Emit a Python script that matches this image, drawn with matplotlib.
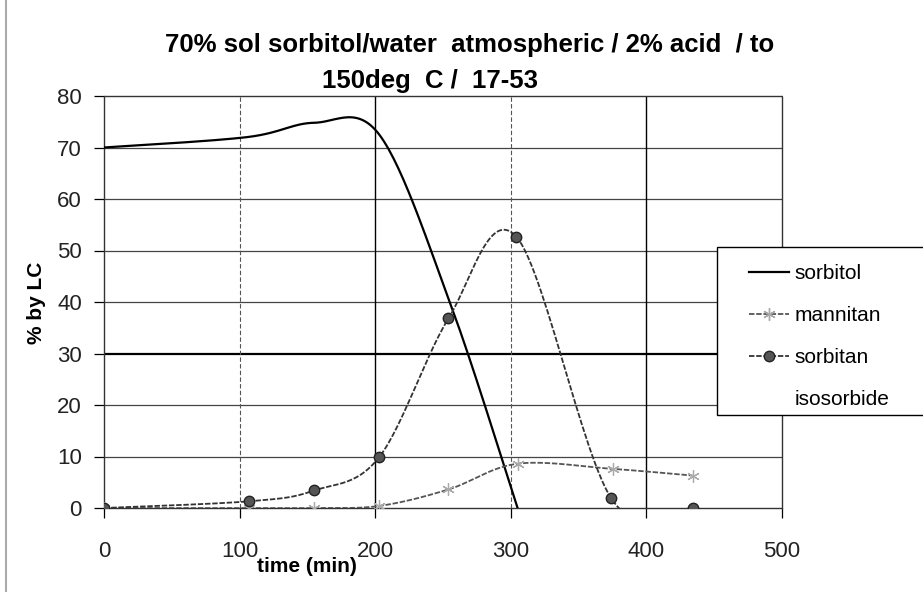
import numpy as np
import matplotlib
matplotlib.use('Agg')
import matplotlib.pyplot as plt
from matplotlib.patches import Rectangle
from matplotlib.lines import Line2D

plt.rcParams['font.family'] = ['Liberation Sans', 'DejaVu Sans']

# data
sorbitol_t = [0, 105, 155, 203, 255, 305]
sorbitol = [70, 72, 74.8, 72.5, 40, 0]

mannitan_t = [0, 107, 155, 203, 254, 305, 375, 434]
mannitan = [0, 0, 0, 0.4, 3.6, 8.6, 7.6, 6.3]

sorbitan_t = [0, 107, 155, 203, 254, 304, 374, 434]
sorbitan = [0, 1.3, 3.4, 9.9, 36.8, 52.7, 1.9, 0]

isosorbide_t = []
isosorbide = []

title1 = '70% sol sorbitol/water  atmospheric / 2% acid  / to'
title2 = '150deg  C /  17-53'


def smooth(x, y, n=30):
    # catmull-rom style smoothing like the spreadsheet "smoothed line"
    x = np.asarray(x, float)
    y = np.asarray(y, float)
    if len(x) < 2:
        return x, y
    px = np.concatenate([[x[0]], x, [x[-1]]])
    py = np.concatenate([[y[0]], y, [y[-1]]])
    xs, ys = [], []
    t = np.linspace(0, 1, n)
    for i in range(1, len(px) - 2):
        p0 = np.array([px[i], py[i]])
        p3 = np.array([px[i + 1], py[i + 1]])
        b1 = p0 + (np.array([px[i + 1], py[i + 1]]) - np.array([px[i - 1], py[i - 1]])) / 6.0
        b2 = p3 - (np.array([px[i + 2], py[i + 2]]) - np.array([px[i], py[i]])) / 6.0
        pts = ((1 - t)[:, None] ** 3 * p0 + 3 * ((1 - t) ** 2 * t)[:, None] * b1
               + 3 * ((1 - t) * t ** 2)[:, None] * b2 + (t ** 3)[:, None] * p3)
        xs.extend(pts[:, 0])
        ys.extend(pts[:, 1])
    return np.array(xs), np.array(ys)


fig = plt.figure(figsize=(9.23, 5.92), dpi=100)
ax = fig.add_axes([104 / 923., 1 - 508 / 592., (782 - 104) / 923., (508 - 96) / 592.])

# grid
for yv in range(10, 80, 10):
    if yv == 30:
        ax.axhline(yv, color='black', lw=1.6, zorder=1)
    else:
        ax.axhline(yv, color='#444444', lw=0.9, zorder=1)
for xv in [100, 300]:
    ax.axvline(xv, color='#555555', lw=0.8, ls=(0, (4, 2)), zorder=1)
for xv in [200, 400]:
    ax.axvline(xv, color='black', lw=1.0, zorder=1)

sx, sy = smooth(sorbitol_t, sorbitol)
ax.plot(sx, sy, color='black', lw=1.6, zorder=3)

mx, my = smooth(mannitan_t, mannitan)
ax.plot(mx, my, color='#555555', lw=1.3, ls=(0, (3, 1)), zorder=3)
ax.plot(mannitan_t, mannitan, ls='none', marker=(6, 2, 0), ms=9, mec='#aaaaaa', mew=0.9, zorder=4)

bx, by = smooth(sorbitan_t, sorbitan)
ax.plot(bx, by, color='#333333', lw=1.3, ls=(0, (3, 1)), zorder=3)
ax.plot(sorbitan_t, sorbitan, ls='none', marker='o', ms=7.5, mfc='#555555', mec='#222222', mew=1.0, zorder=4)

ax.plot(isosorbide_t, isosorbide, color='white')

ax.set_xlim(0, 500)
ax.set_ylim(0, 80)
ax.set_xticks(range(0, 501, 100))
ax.set_yticks(range(0, 81, 10))
ax.tick_params(axis='both', direction='out', length=7, width=0.9, labelsize=16, colors='black')
ax.tick_params(axis='y', pad=9)
ax.tick_params(axis='x', pad=17)
for lab in ax.get_xticklabels() + ax.get_yticklabels():
    lab.set_color('#222222')

for s in ['top', 'right', 'left', 'bottom']:
    ax.spines[s].set_linestyle((0, (2, 1)))
    ax.spines[s].set_linewidth(1.0)
    ax.spines[s].set_color('#333333')

fig.text(470 / 923., 1 - 45 / 592., title1, ha='center', va='center', fontsize=18.5,
         fontweight='bold')
fig.text(430 / 923., 1 - 81 / 592., title2, ha='center', va='center', fontsize=18.5,
         fontweight='bold')

fig.text(307 / 923., 1 - 566 / 592., 'time (min)', ha='center', va='center', fontsize=15,
         fontweight='bold')
fig.text(37 / 923., 1 - 303 / 592., '% by LC', ha='center', va='center', fontsize=15,
         fontweight='bold', rotation=90)

# left border of the picture
fig.add_artist(Line2D([6 / 923., 6 / 923.], [0, 1], color='#aaaaaa', lw=1.5))

# legend box
fig.add_artist(Rectangle((717 / 923., 1 - 415 / 592.), 0.3, (415 - 247) / 592.,
                         facecolor='white', edgecolor='black', lw=1.0, zorder=4))
handles = [
    Line2D([], [], color='black', lw=1.6),
    Line2D([], [], color='#555555', lw=1.3, ls=(0, (3, 1)), marker=(6, 2, 0), ms=9, mec='#aaaaaa'),
    Line2D([], [], color='#333333', lw=1.3, ls=(0, (3, 1)), marker='o', ms=7.5, mfc='#555555', mec='#222222'),
    Line2D([], [], color='white', lw=1.3),
]
fig.legend(handles, ['sorbitol', 'mannitan', 'sorbitan', 'isosorbide'], loc='upper left',
           bbox_to_anchor=(741 / 923., 1 - 256 / 592.), frameon=False, fontsize=15,
           handlelength=1.9, handletextpad=0.25, labelspacing=1.1, borderaxespad=0)

fig.savefig('out.png', dpi=100)
